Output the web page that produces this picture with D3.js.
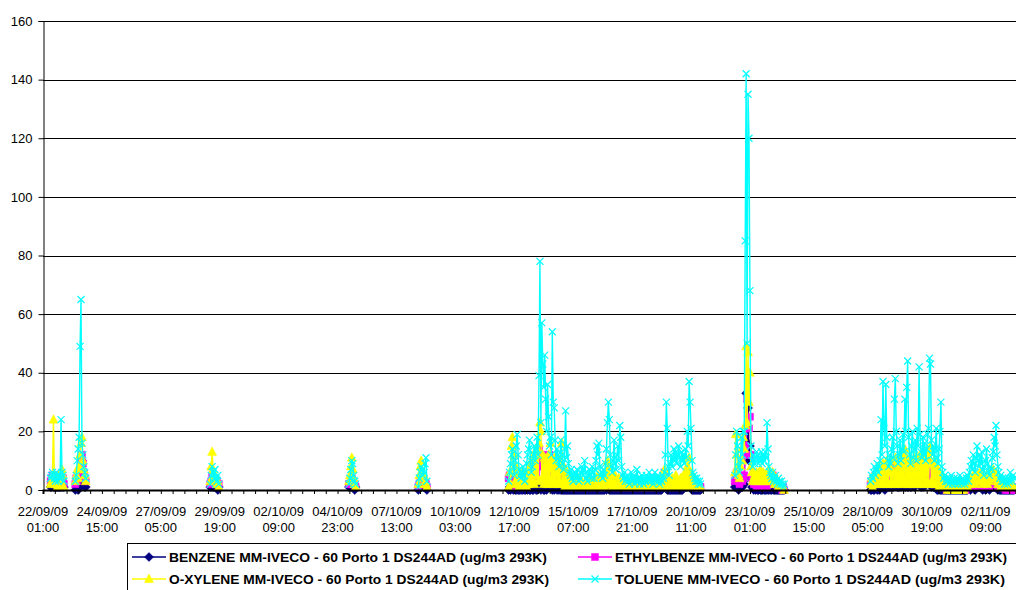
<!DOCTYPE html>
<html>
<head>
<meta charset="utf-8">
<script src="https://cdn.jsdelivr.net/npm/d3@7"></script>
<style>
  html, body { margin: 0; padding: 0; background: #fff; }
  svg { display: block; }
</style>
</head>
<body>
<svg id="chart" width="1016" height="590"></svg>
<script>
// ---------------- DATA ----------------
// hourly categories, index 0 = 22/09/09 01:00
const dateLabels = ["22/09/09","24/09/09","27/09/09","29/09/09","02/10/09","04/10/09","07/10/09","10/10/09","12/10/09","15/10/09","17/10/09","20/10/09","23/10/09","25/10/09","28/10/09","30/10/09","02/11/09"];
const timeLabels = ["01:00","15:00","05:00","19:00","09:00","23:00","13:00","03:00","17:00","07:00","21:00","11:00","01:00","15:00","05:00","19:00","09:00"];
const labelEvery = 62;       // hours between category labels
const tickEvery = 12.4;      // hours between minor tick marks
const hourCount = 1024;      // categories spanned by visible plot
const yTicks = [0,20,40,60,80,100,120,140,160];

const seriesNames = [
  "BENZENE MM-IVECO - 60 Porto 1 DS244AD (ug/m3 293K)",
  "ETHYLBENZE MM-IVECO - 60 Porto 1 DS244AD (ug/m3 293K)",
  "O-XYLENE MM-IVECO - 60 Porto 1 DS244AD (ug/m3 293K)",
  "TOLUENE MM-IVECO - 60 Porto 1 DS244AD (ug/m3 293K)"
];

// start hour index of each measured block
const segStart = [8, 34, 176, 322, 395, 490, 728, 871];

const benzene = [
  [1,1,2,1,1,1,1,1,1,1,1,1,2,1,1],
  [0,1,1,0,1,2,3,10,5,2,1,1],
  [1,1,2,1,1,2,1,1,0,1],
  [1,1,2,2,1,1,0,1],
  [0,1,1,1,2,1,1,1,1,0],
  [0,1,0,1,1,0,1,0,0,1, 0,0,0,1,0,0,1,0,0,1, 0,1,0,0,1,0,0,1,1,0, 0,1,1,1,0,1,1,0,0,1,
   0,1,1,2,11,1,0,1,0,1, 1,0,1,0,1,0,0,0,0,0, 0,0,0,0,0,0,0,0,0,0, 0,0,0,0,0,0,0,0,0,0,
   0,0,0,0,0,0,0,0,0,0, 0,0,0,0,0,0,0,0,0,0, 0,0,1,0,1,1,0,0,0,0, 0,0,0,0,0,0,0,0,0,0,
   0,0,0,0,0,0,0,0,0,0, 0,0,0,0,0,0,0,0,0,0, 0,0,0,0,0,0,0,0,0,0, 0,0,0,0,0,0,0,0,0,0,
   0,0,1,1,2,1,1,0,0,0, 0,0,0,0,0,0,0,0,0,0, 0,0,0,0,1,1,1,1,1,2, 2,1,1,0,0,0,0,0,0,0, 0,0,0],
  [1,2,1,1,0,1,2,1,1,3, 2,17,33,16,28,10,15,4, 1,1,0,1,0,1,0,0,1,0,0,0,1,0,0,0,1,0,0,1,0,0,1,0,0,0,0,0,0,0,0,0,0,0,0],
  [0,0,1,0,0,1,1,0,1,0, 1,2,1,1,1,0,1,1,2,1, 1,1,2,1,1,2,8,2,1,1, 1,2,1,2,2,1,2,1,2,1,
   1,2,1,1,2,2,1,2,3,5, 10,3,2,1,1,2,1,2,2,4, 10,4,2,2,1,2,1,1,1,1, 0,0,1,0,0,0,0,0,0,0,
   0,0,0,0,0,0,0,0,0,0, 0,0,0,0,0,0,0,0,0,0, 0,0,0,1,1,0,1,1,1,1, 0,1,1,1,1,1,1,1,0,1,
   1,0,1,1,1,0,1,1,1,1, 1,1,2,1,0,1,0,0,0,0, 0,0,0,0,0,0,0,0,0,0, 0,0]
];

const ethylbenzene = [
  [3,4,5,4,3,5,4,3,2,3,4,5,3,4,2],
  [2,4,3,4,5,7,10,12,9,6,4,3],
  [2,3,5,4,3,4,2,3,2,2],
  [2,2,3,4,3,2,2,1],
  [1,2,3,2,3,2,3,2,2,1],
  [4,5,5,3,4,5,3,2,1,2, 1,2,1,2,3,1,2,1,2,3, 2,3,4,3,5,6,4,5,8,6, 9,11,14,12,10,8,12,9,7,10,
   8,6,9,12,10,7,6,8,5,7, 6,5,8,4,6,5,7,4,3,4, 3,2,3,2,1,2,1,2,1,1, 1,2,1,1,2,1,1,2,1,1,
   1,1,2,1,1,2,1,1,2,1, 2,1,2,1,2,2,1,1,2,1, 1,2,3,2,3,2,2,1,1,1, 2,1,2,1,1,2,1,1,1,1,
   1,1,1,1,1,1,1,1,1,1, 1,1,1,1,1,1,1,1,1,1, 1,1,1,1,1,1,1,1,1,1, 1,1,1,1,1,1,1,1,1,1,
   1,2,2,4,6,5,3,2,2,1, 1,2,1,1,2,1,2,1,2,1, 1,2,1,2,2,3,2,3,4,5, 6,5,3,2,2,1,1,1,1,1, 1,1,1],
  [3,4,6,4,3,2,5,4,3,4, 5,15,12,31,21,21,25,12, 4,3,2,3,2,1,2,1,2,1,2,1,1,2,1,2,1,3,2,4,3,2,5,3,2,3,2,1,2,1,1,1,0,1,0],
  [2,3,2,4,3,5,3,4,5,4, 5,8,4,6,3,5,6,4,5,3, 6,4,7,5,4,6,8,5,6,4, 5,6,4,5,7,4,6,5,7,5,
   4,6,3,5,6,7,4,9,5,7, 6,8,5,4,5,6,4,7,5,10, 6,9,5,4,3,6,3,4,2,4, 3,2,3,2,2,1,1,1,1,1,
   0,1,0,0,1,0,0,1,0,0, 1,0,0,1,0,0,1,0,0,1, 0,1,1,1,2,1,2,1,2,2, 1,2,3,2,2,3,2,3,1,2,
   2,1,3,2,2,1,3,2,3,4, 3,2,4,2,1,2,1,1,1,1, 1,1,0,1,1,0,1,1,0,1, 1,0]
];

const oxylene = [
  [2,3,5,24,4,2,2,1,2,1,3,5,7,5,1],
  [3,5,7,4,8,12,16,18,10,7,5,3],
  [3,8,13,7,5,4,3,2,3,1],
  [3,5,8,11,7,4,2,1],
  [2,5,8,10,6,4,5,3,2,1],
  [1,6,2,15,18,6,12,3,8,2, 5,1,4,2,6,1,3,2,5,1, 6,2,8,3,10,4,12,2,13,5, 14,3,16,23,20,4,12,2,11,3,
   9,2,12,4,16,3,10,2,8,3, 12,2,9,3,10,2,16,3,8,1, 7,1,6,2,5,1,4,1,3,1, 2,3,1,2,4,1,2,3,1,2,
   2,3,1,1,2,4,1,2,1,3, 3,1,4,2,5,1,3,1,2,1, 3,1,6,2,10,3,8,2,4,1, 4,1,5,2,3,1,4,1,2,1,
   2,1,2,3,1,2,1,2,1,2, 1,2,3,1,2,1,2,1,2,1, 2,1,1,2,3,1,2,1,2,1, 1,2,1,3,2,1,2,1,2,3,
   2,4,1,5,7,2,4,1,3,1, 3,1,4,2,3,1,5,1,3,2, 2,4,1,3,5,2,6,1,8,3, 11,2,6,1,3,1,4,1,2,1, 2,1,1],
  [6,19,12,8,5,4,8,14,10,18, 14,22,49,23,47,30,40,8, 6,3,4,5,3,6,4,3,5,7,4,3,6,5,3,4,6,3,7,4,5,3,6,4,2,3,4,2,1,2,1,2,1,1,0],
  [2,4,1,5,2,6,2,7,3,8, 2,8,3,9,2,7,4,10,2,6, 8,2,10,3,6,2,11,3,9,2, 8,3,10,2,12,4,14,3,11,2,
   7,2,10,3,9,2,11,3,8,2, 11,3,12,2,10,4,11,2,10,3, 12,2,13,15,3,9,2,10,2,8, 2,7,1,6,2,4,1,1,2,1,
   1,0,1,1,0,1,1,0,1,1, 0,1,1,0,1,0,1,1,0,1, 1,2,1,2,3,2,4,3,5,3, 2,4,5,3,4,6,3,5,2,3,
   4,3,5,2,4,3,6,4,5,7, 5,4,6,3,2,3,2,1,2,1, 2,1,1,2,1,1,2,1,1,2, 1,1]
];

const toluene = [
  [4,5,6,5,4,3,6,5,3,4,5,24,6,5,3],
  [3,5,10,14,18,49,65,16,12,8,6,4],
  [2,5,8,6,4,7,4,3,5,2],
  [2,4,7,10,9,5,3,2],
  [1,4,6,8,7,5,6,9,11,3],
  [3,6,9,12,14,8,5,10,15,19, 12,7,5,4,6,8,5,3,6,9, 12,14,17,10,6,8,12,15,10,14, 18,12,39,78,23,57,43,35,46,31,
   20,36,25,15,18,12,54,30,28,17, 10,14,12,8,10,17,12,9,7,14, 27,11,15,9,6,5,7,4,3,5, 6,4,7,5,3,4,6,8,5,7,
   10,6,4,3,5,7,5,4,8,6, 4,7,10,15,12,16,8,5,6,4, 7,5,9,14,23,30,24,12,8,6, 10,17,9,7,12,15,10,22,18,8,
   5,4,6,3,4,5,3,2,4,6, 3,4,5,2,3,7,4,3,2,4, 5,3,2,4,3,5,4,3,6,4, 3,5,2,4,6,3,4,5,3,2,
   4,3,5,4,6,12,30,21,8,5, 9,12,8,11,14,10,13,9,12,15, 11,8,13,10,12,9,14,11,20,15, 37,30,21,10,6,5,4,3,4,3, 2,3,2],
  [5,12,20,15,8,6,10,18,12,20, 20,85,142,50,135,120,68,15, 10,8,12,9,11,13,12,9,11,10,13,9,12,10,13,11,23,14,8,6,5,4,6,3,4,5,3,2,4,3,2,3,2,1,2],
  [3,5,4,6,8,5,7,9,6,8, 10,24,12,37,21,15,36,18,10,8, 12,9,14,18,11,31,38,20,15,9, 12,17,10,14,19,13,31,20,35,44,
   18,12,9,15,20,11,14,17,10,21, 15,42,19,13,11,18,12,16,10,14, 19,21,45,43,17,12,15,10,14,21, 11,9,14,20,30,8,6,4,5,3,
   4,3,2,4,3,5,2,3,4,2, 3,4,2,3,5,3,2,4,3,2, 3,4,5,3,6,8,10,7,12,9, 6,11,15,10,8,12,9,13,7,5,
   8,10,14,9,6,5,8,7,11,13, 18,15,22,12,8,6,4,5,3,4, 3,2,4,3,2,4,3,6,4,3, 5,4]
];

const seriesColors = ["#000080", "#FF00FF", "#FFFF00", "#00FFFF"];
const seriesMarkers = ["diamond", "square", "triangle", "x"];
const legendTextLength = [378, 392, 380, 390];

// ---------------- CHART ----------------
const svg = d3.select("#chart");
const W = 1016, H = 590;
const plot = { left: 43, right: 1016, top: 21, bottom: 490 };

const x = d3.scaleLinear().domain([0, hourCount]).range([plot.left, plot.right]);
const y = d3.scaleLinear().domain([0, 160]).range([plot.bottom, plot.top]);

const fontAxis = "'Liberation Sans', Arial, sans-serif";

// gridlines
svg.append("g").selectAll("line").data(yTicks.filter(d => d > 0)).join("line")
  .attr("x1", plot.left).attr("x2", W)
  .attr("y1", d => Math.round(y(d)) + 0.5).attr("y2", d => Math.round(y(d)) + 0.5)
  .attr("stroke", "#000").attr("stroke-width", 1);

// y axis
const yAxis = d3.axisLeft(y).tickValues(yTicks).tickSize(5).tickPadding(6).tickFormat(d3.format("d"));
const gy = svg.append("g").attr("transform", `translate(${plot.left + 0.5},0)`).call(yAxis);
gy.select(".domain").attr("stroke", "#000");
gy.selectAll(".tick line").attr("stroke", "#000");
gy.selectAll("text").attr("font-family", fontAxis).attr("font-size", 13).attr("fill", "#000");

// series
const symbolPath = {
  diamond: "M0,-4.5L4.5,0L0,4.5L-4.5,0Z",
  square: "M-3.5,-3.5H3.5V3.5H-3.5Z",
  triangle: "M0,-5L4.5,3.5L-4.5,3.5Z",
  x: "M-3.5,-3.5L3.5,3.5M-3.5,3.5L3.5,-3.5"
};

const allSeries = [benzene, ethylbenzene, oxylene, toluene];
const line = d3.line().x(d => x(d.i)).y(d => y(d.v));

const plotG = svg.append("g");
allSeries.forEach((segs, si) => {
  const g = plotG.append("g");
  const color = seriesColors[si];
  const pts = [];
  segs.forEach((vals, k) => {
    const seg = vals.map((v, j) => ({ i: segStart[k] + j, v }));
    pts.push(...seg);
    g.append("path").attr("d", line(seg)).attr("fill", "none")
      .attr("stroke", color).attr("stroke-width", 1.4);
  });
  const m = seriesMarkers[si];
  g.selectAll("path.mk").data(pts).join("path").attr("class", "mk")
    .attr("transform", d => `translate(${x(d.i)},${y(d.v)})`)
    .attr("d", symbolPath[m])
    .attr("fill", m === "x" ? "none" : color)
    .attr("stroke", color)
    .attr("stroke-width", m === "x" ? 1.2 : 0.5);
});

// x axis
const minorTicks = d3.range(0, hourCount + 0.01, tickEvery);
const xAxis = d3.axisBottom(x).tickValues(minorTicks).tickSize(4).tickFormat("");
const gx = svg.append("g").attr("transform", `translate(0,${plot.bottom})`).call(xAxis);
gx.select(".domain").attr("stroke", "#000").attr("stroke-width", 2);
gx.selectAll(".tick line").attr("stroke", "#000");

const labelIdx = dateLabels.map((d, k) => k * labelEvery);
const lab = svg.append("g").attr("font-family", fontAxis).attr("font-size", 13).attr("fill", "#000").attr("text-anchor", "middle");
lab.selectAll("text.d").data(labelIdx).join("text").attr("class", "d")
  .attr("x", d => x(d)).attr("y", 516).text((d, k) => dateLabels[k]);
lab.selectAll("text.t").data(labelIdx).join("text").attr("class", "t")
  .attr("x", d => x(d)).attr("y", 532).text((d, k) => timeLabels[k]);

// legend
const leg = svg.append("g");
leg.append("rect").attr("x", 127.5).attr("y", 543.5).attr("width", 900).attr("height", 60)
  .attr("fill", "#fff").attr("stroke", "#000").attr("stroke-width", 1);
const legPos = [[132, 557], [578, 557], [132, 579], [578, 579]];
seriesNames.forEach((name, si) => {
  const [lx, ly] = legPos[si];
  const c = seriesColors[si];
  leg.append("line").attr("x1", lx).attr("x2", lx + 34).attr("y1", ly).attr("y2", ly)
    .attr("stroke", c).attr("stroke-width", 1.5);
  leg.append("path").attr("transform", `translate(${lx + 17},${ly})`)
    .attr("d", symbolPath[seriesMarkers[si]])
    .attr("fill", seriesMarkers[si] === "x" ? "none" : c).attr("stroke", c)
    .attr("stroke-width", seriesMarkers[si] === "x" ? 1.2 : 0.5);
  leg.append("text").attr("x", lx + 37).attr("y", ly + 5)
    .attr("font-family", "'Liberation Sans Narrow', 'Arial Narrow', 'Liberation Sans', sans-serif")
    .attr("font-weight", "bold").attr("font-size", 13).attr("fill", "#000")
    .attr("textLength", legendTextLength[si]).attr("lengthAdjust", "spacingAndGlyphs")
    .text(name);
});
</script>
</body>
</html>
